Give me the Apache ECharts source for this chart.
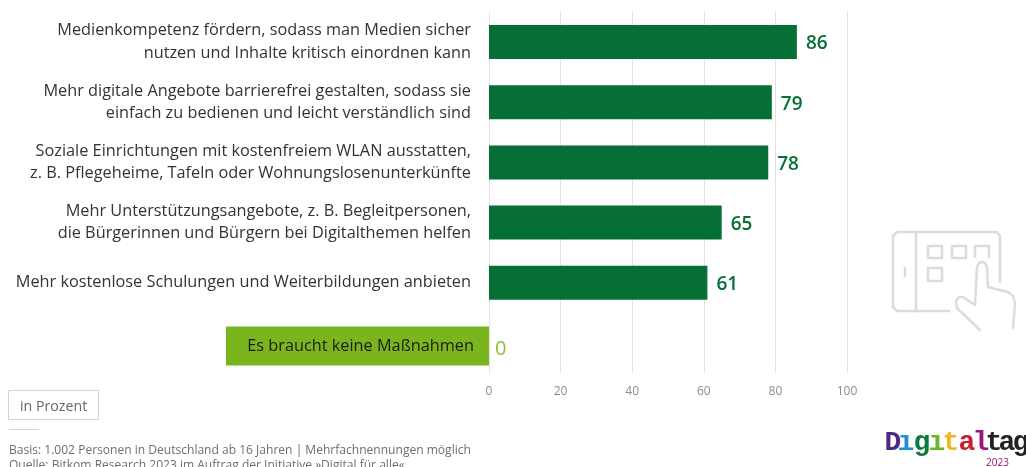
<!DOCTYPE html>
<html>
<head>
<meta charset="utf-8">
<title>Digitaltag 2023</title>
<script src="https://cdn.jsdelivr.net/npm/echarts@6/dist/echarts.min.js"></script>
<style>
  html, body { margin: 0; padding: 0; background: #fff; }
  #chart { width: 1026px; height: 467px; }
</style>
</head>
<body>
<div id="chart"></div>
<script>
const categories = [
  'Medienkompetenz fördern, sodass man Medien sicher\nnutzen und Inhalte kritisch einordnen kann',
  'Mehr digitale Angebote barrierefrei gestalten, sodass sie\neinfach zu bedienen und leicht verständlich sind',
  'Soziale Einrichtungen mit kostenfreiem WLAN ausstatten,\nz. B. Pflegeheime, Tafeln oder Wohnungslosenunterkünfte',
  'Mehr Unterstützungsangebote, z. B. Begleitpersonen,\ndie Bürgerinnen und Bürgern bei Digitalthemen helfen',
  'Mehr kostenlose Schulungen und Weiterbildungen anbieten',
  'Es braucht keine Maßnahmen',
];
const values = [86, 79, 78, 65, 61, 0];
const xTicks = [0, 20, 40, 60, 80, 100];

const unitLabel = 'in Prozent';
const basisText = 'Basis: 1.002 Personen in Deutschland ab 16 Jahren | Mehrfachnennungen möglich';
const sourceText = 'Quelle: Bitkom Research 2023 im Auftrag der Initiative »Digital für alle«';
const logoLetters = ['D', 'ı', 'g', 'ı', 't', 'a', 'l', 't', 'a', 'g'];
const logoColors = ['#4b2a82', '#1f8fd0', '#0a7a3e', '#6fb52c', '#f3b61f', '#c8202f', '#a3127a', '#222222', '#222222', '#222222'];

const font = '"Open Sans", sans-serif';
const darkGreen = '#066f35';
const lightGreen = '#7ab51d';
const iconColor = '#dcdcdc';

const lastIndex = values.length - 1;

const chart = echarts.init(document.getElementById('chart'));

// Piktogramm rechts: Tablet mit Finger
function iconLine(points) {
  return {
    type: 'polyline',
    silent: true,
    shape: { points: points },
    style: { stroke: iconColor, lineWidth: 2.5, fill: null, lineCap: 'round', lineJoin: 'round' },
  };
}
function iconRect(x, y, w, h, r) {
  return {
    type: 'rect',
    silent: true,
    shape: { x: x, y: y, width: w, height: h, r: r || 0 },
    style: { stroke: iconColor, lineWidth: 2.5, fill: null },
  };
}

const logoX = [893, 906, 922, 937, 951, 967, 981, 994, 1007, 1021];
const logoItems = logoLetters.map((ch, i) => ({
  type: 'text',
  silent: true,
  x: logoX[i],
  y: 429,
  style: {
    text: ch,
    fill: logoColors[i],
    align: 'center',
    font: 'bold 28px "Liberation Mono", monospace',
  },
}));

const option = {
  animation: false,
  backgroundColor: '#ffffff',
  grid: { left: 489, right: 179, top: 12, height: 361 },
  xAxis: {
    type: 'value',
    min: 0,
    max: 100,
    interval: 20,
    axisLine: { show: false },
    axisTick: { show: false },
    axisLabel: {
      margin: 13,
      color: '#8c8c8c',
      fontSize: 12,
      fontFamily: font,
      formatter: (v) => (xTicks.includes(v) ? String(v) : ''),
    },
    splitLine: { show: true, lineStyle: { color: '#e2e2e2', width: 1 } },
  },
  yAxis: {
    type: 'category',
    inverse: true,
    data: categories,
    axisLine: { show: false },
    axisTick: { show: false },
    axisLabel: {
      margin: 18,
      align: 'right',
      color: '#333333',
      fontSize: 16.3,
      lineHeight: 22.5,
      fontFamily: font,
      interval: 0,
      formatter: (v) => (v === categories[lastIndex] ? '' : v),
    },
  },
  series: [
    {
      type: 'bar',
      barWidth: 34,
      data: values.map((v, i) => ({
        value: v,
        itemStyle: { color: i === lastIndex ? lightGreen : darkGreen },
        label: i === lastIndex
          ? { color: '#8fbf3f', fontWeight: 'normal', fontSize: 20, offset: [-3, 6] }
          : {},
      })),
      label: {
        show: true,
        position: 'right',
        distance: 9,
        offset: [0, 2],
        color: darkGreen,
        fontSize: 19,
        fontWeight: 600,
        fontFamily: font,
      },
    },
    {
      // gruener Kasten fuer die letzte Kategorie
      type: 'bar',
      barWidth: 34,
      barGap: '-100%',
      data: values.map((v, i) => (i === lastIndex ? v : null)),
      itemStyle: { color: 'transparent' },
      label: {
        show: true,
        position: 'left',
        distance: 0,
        offset: [0, 3],
        formatter: (p) => categories[p.dataIndex],
        color: '#1c1c1c',
        fontSize: 16.3,
        fontFamily: font,
        backgroundColor: lightGreen,
        width: 231,
        align: 'right',
        lineHeight: 20,
        padding: [11, 15, 8, 17],
      },
    },
  ],
  graphic: [
    {
      type: 'rect',
      silent: true,
      shape: { x: 8.5, y: 390.5, width: 90, height: 29 },
      style: { stroke: '#d4d4d4', lineWidth: 1, fill: '#fff' },
    },
    {
      type: 'text',
      silent: true,
      x: 20,
      y: 397,
      style: { text: unitLabel, fill: '#666666', font: '14.2px ' + font, lineHeight: 20 },
    },
    {
      type: 'line',
      silent: true,
      shape: { x1: 9, y1: 429.5, x2: 39, y2: 429.5 },
      style: { stroke: '#d4d4d4', lineWidth: 1 },
    },
    {
      type: 'text',
      silent: true,
      x: 9,
      y: 445,
      style: { text: basisText, fill: '#6e6e6e', font: '12.05px ' + font },
    },
    {
      type: 'text',
      silent: true,
      x: 9,
      y: 460,
      style: { text: sourceText, fill: '#6e6e6e', font: '12.05px ' + font },
    },
    iconLine([[1000, 282], [1000, 236], [997, 232], [897, 232], [893, 236], [893, 307], [897, 311], [949, 311]]),
    iconLine([[916, 232], [916, 311]]),
    iconLine([[905, 268], [905, 276]]),
    iconRect(928, 246, 14, 12),
    iconRect(952, 246, 14, 12),
    iconLine([[975, 257], [975, 246], [989, 246], [989, 257]]),
    iconRect(928, 268, 14, 13),
    iconLine([
      [1013, 328], [1015, 303], [1013, 296], [1008, 292], [988, 287], [987, 267],
      [985, 263], [982, 262], [979, 263], [977, 267], [975, 305], [963, 297],
      [959, 297], [956, 301], [957, 308], [980, 330],
    ]),
    ...logoItems,
    {
      type: 'text',
      silent: true,
      x: 986,
      y: 458,
      style: { text: '2023', fill: '#a3127a', font: '10px ' + font },
    },
  ],
};

chart.setOption(option);
</script>
</body>
</html>
